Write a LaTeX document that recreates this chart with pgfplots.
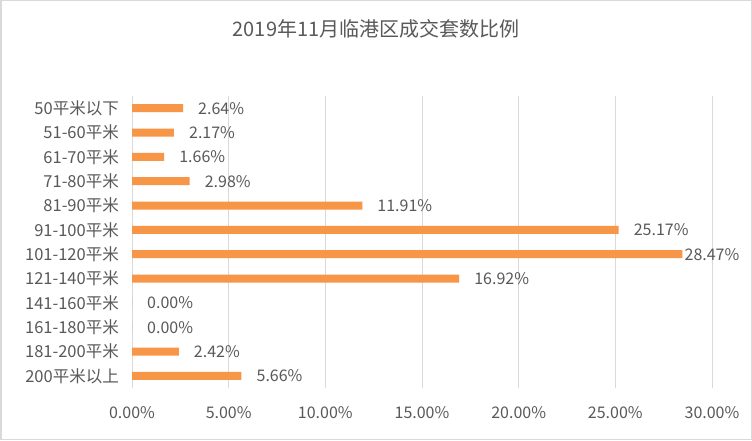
\documentclass[border=0pt]{standalone}
\usepackage{fontspec}
\setmainfont{Noto Sans CJK SC}
\usepackage{pgfplots}
\usepackage{pgfplotstable}
\pgfplotsset{compat=1.18}
\definecolor{barorange}{HTML}{F79646}
\definecolor{gridgray}{HTML}{D9D9D9}
\definecolor{txtgray}{HTML}{595959}

% shift = gap between bar end and its label (Excel pulls the last one in)
\pgfplotstableread{
idx share shift
0  2.64  15
1  2.17  15
2  1.66  15
3  2.98  15
4  11.91 15
5  25.17 15
6  28.47 2
7  16.92 15
8  0.00  15
9  0.00  15
10 2.42  15
11 5.66  15
}\sharetable

\begin{document}
\begin{tikzpicture}
  \useasboundingbox (0,0) rectangle (752pt,440pt);
  \fill[white] (0,0) rectangle (752pt,440pt);
  \draw[gridgray, line width=1.5pt] (0.75pt,0.75pt) rectangle (751.25pt,439.25pt);
  \node[txtgray, font=\fontsize{20}{24}\selectfont] at (376pt,411.5pt) {2019年11月临港区成交套数比例};
  \begin{axis}[
      scale only axis,
      width=580pt, height=292pt,
      at={(132pt,52pt)}, anchor=south west,
      xbar, bar width=8pt,
      y dir=reverse,
      xmin=0, xmax=30,
      ymin=-0.5, ymax=11.5,
      xtick={0,5,...,30},
      ytick=data,
      yticklabels={50平米以下,51-60平米,61-70平米,71-80平米,81-90平米,91-100平米,101-120平米,121-140平米,141-160平米,161-180平米,181-200平米,200平米以上},
      xticklabel={\pgfmathprintnumber[fixed,fixed zerofill,precision=2]{\tick}\%},
      /pgf/number format/assume math mode=true,
      xmajorgrids,
      grid style={gridgray, line width=1pt},
      axis line style={draw=none},
      major tick length=0pt,
      tick label style={txtgray},
      xticklabel style={font=\fontsize{16}{19}\selectfont, anchor=center, yshift=-24.5pt},
      yticklabel style={font=\fontsize{16.5}{20}\selectfont, anchor=east, inner sep=0pt, xshift=-13pt},
      point meta=x,
      visualization depends on={\thisrow{shift} \as \labelshift},
      nodes near coords={\pgfmathprintnumber[fixed,fixed zerofill,precision=2]{\pgfplotspointmeta}\%},
      nodes near coords style={anchor=west, inner sep=0pt, xshift=\labelshift pt, txtgray, font=\fontsize{16}{19}\selectfont},
    ]
    \addplot[draw=none, fill=barorange] table[x=share, y=idx] {\sharetable};
  \end{axis}
\end{tikzpicture}
\end{document}
